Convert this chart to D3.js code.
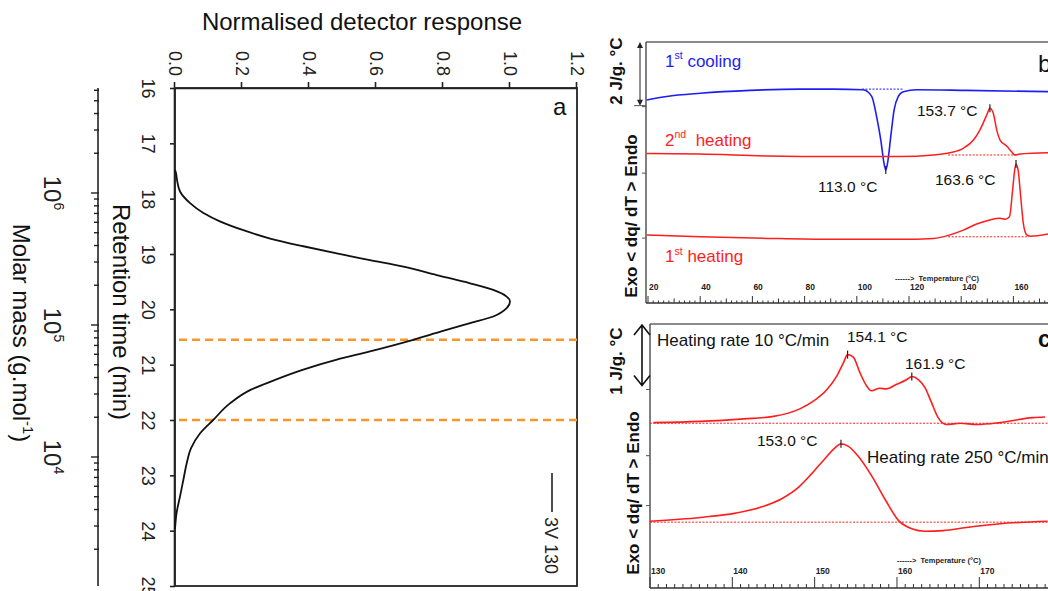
<!DOCTYPE html>
<html>
<head>
<meta charset="utf-8">
<script src="https://cdn.jsdelivr.net/npm/d3@7"></script>
<style>
  body { margin: 0; background: #fff; }
  svg { display: block; }
  text { font-family: "Liberation Sans", Arial, sans-serif; }
</style>
</head>
<body>
<svg id="chart" width="1048" height="591"></svg>
<script>
// ---- panel a : GPC trace (retention time in min, normalised response) ----
const gpcTime = [17.48, 17.54, 17.66, 17.87, 18.08, 18.26, 18.41, 18.57, 18.72, 18.86,
  18.99, 19.11, 19.23, 19.38, 19.53, 19.65, 19.77, 19.86, 19.98, 20.13,
  20.25, 20.40, 20.55, 20.76, 20.91, 21.09, 21.31, 21.46, 21.70, 22.00,
  22.24, 22.51, 22.78, 23.08, 23.38, 23.67, 23.97];
const gpcResponse = [0, 0.003, 0.006, 0.015, 0.045, 0.085, 0.134, 0.204, 0.284, 0.383,
  0.483, 0.582, 0.682, 0.781, 0.881, 0.950, 0.990, 1.000, 0.990, 0.950,
  0.881, 0.795, 0.711, 0.582, 0.483, 0.383, 0.284, 0.224, 0.164, 0.114,
  0.075, 0.048, 0.035, 0.025, 0.015, 0.005, 0];
const cutTimes = [20.55, 22.0];
const timeTicks = [16, 17, 18, 19, 20, 21, 22, 23, 24, 25];
const responseTicks = [0, 0.2, 0.4, 0.6, 0.8, 1.0, 1.2];
const molarExponents = [6, 5, 4];

// ---- panel b : DSC, heat flow in J/g.°C (arbitrary zero) ----
const coolT = [19.5, 27.2, 40, 59, 78, 91, 102.4, 105.7, 107.6, 109.2, 110.4, 111.1, 111.8, 113.0, 114.3, 115.9, 117.8, 123, 142, 173.3];
const coolQ = [6.38, 6.49, 6.59, 6.68, 6.72, 6.72, 6.70, 6.49, 5.85, 5.12, 4.40, 4.18, 4.40, 5.22, 6.07, 6.49, 6.64, 6.70, 6.68, 6.64];
const heat2T = [19.5, 40, 65.5, 91, 116.6, 129.3, 135.7, 140.8, 144.7, 147.2, 149.8, 151.0, 152.3, 153.6, 154.9, 157.4, 159.3, 160.6, 162.5, 173.3];
const heat2Q = [4.70, 4.68, 4.62, 4.60, 4.60, 4.65, 4.72, 4.86, 5.12, 5.44, 5.91, 6.12, 5.96, 5.44, 5.12, 4.93, 4.75, 4.65, 4.68, 4.72];
const heat1T = [19.5, 40, 65.5, 91, 116.6, 129.3, 135.7, 140.8, 145.9, 151.0, 154.9, 156.8, 158.5, 159.7, 160.5, 161.0, 161.8, 162.8, 163.8, 165.1, 166.4, 173.3];
const heat1Q = [2.14, 2.08, 2.03, 2.00, 2.00, 2.03, 2.14, 2.29, 2.48, 2.61, 2.66, 2.63, 2.71, 3.55, 4.18, 4.37, 4.18, 3.34, 2.50, 2.14, 2.10, 2.17];
// dotted baselines: [start T, end T, level]
const baselinesB = [[102, 118, 6.72, "blue"], [135, 161, 4.65, "red"], [135, 166, 2.08, "red"]];
const peaksB = [[111.1, 4.18], [151.0, 6.12], [161.0, 4.37]];
const tempLabelsB = [20, 40, 60, 80, 100, 120, 140, 160];
const leftTicksB = [2.04, 4.08, 6.17];

// ---- panel c : DSC at two heating rates ----
const rate10T = [130.4, 136.1, 141.4, 145, 148.2, 149.8, 151.5, 152.7, 153.5, 154.0, 154.7, 155.5, 156.3, 156.9, 157.9,
  158.7, 159.9, 161.2, 161.8, 162.6, 163.4, 164.2, 165.0, 166.0, 167.7, 169.7, 172.5, 176.5, 178.0];
const rate10Q = [2.65, 2.67, 2.71, 2.75, 2.87, 2.99, 3.18, 3.40, 3.61, 3.74, 3.70, 3.45, 3.24, 3.16, 3.20,
  3.19, 3.26, 3.34, 3.39, 3.34, 3.21, 2.97, 2.73, 2.62, 2.64, 2.62, 2.65, 2.73, 2.74];
const rate250T = [130, 136.1, 140.4, 143.6, 146, 148.1, 149.7, 151.3, 152.5, 153.2, 154.1, 155.3, 157.0, 158.6, 160.2, 161.8, 163.4, 165.6, 168.4, 172.5, 178.3];
const rate250Q = [1.07, 1.13, 1.20, 1.30, 1.43, 1.62, 1.84, 2.08, 2.25, 2.31, 2.27, 2.11, 1.78, 1.41, 1.08, 0.95, 0.91, 0.92, 0.97, 1.03, 1.07];
const baselinesC = [[130, 178.3, 2.64], [130, 178.3, 1.055]];
const peaksC = [[154.0, 3.74], [161.8, 3.39], [153.2, 2.31]];
const tempLabelsC = [130, 140, 150, 160, 170];
const leftTicksC = [1.32, 2.12, 3.18];

const RED = "#ff1d1d", BLUE = "#1e1ef2";
const svg = d3.select("#chart");

function richText(parent, x, y, parts, size) {
  const t = parent.append("text").attr("x", x).attr("y", y)
    .attr("font-size", size).style("white-space", "pre");
  let up = false;
  parts.forEach(([s, sup]) => {
    const ts = t.append("tspan").text(s);
    if (sup) ts.attr("font-size", size * 0.62);
    if (sup && !up) ts.attr("dy", -size * 0.42);
    if (!sup && up) ts.attr("dy", size * 0.42);
    up = sup;
  });
  return t;
}

// ================= panel a =================
// drawn as an ordinary plot, then turned 90° clockwise
const aW = 498, aH = 402;
const gA = svg.append("g").attr("transform", "translate(577,88) rotate(90)");
const xTime = d3.scaleLinear().domain([16, 25]).range([0, aW]);
const yResp = d3.scaleLinear().domain([0, 1.2]).range([aH, 0]);

const axT = gA.append("g").attr("transform", `translate(0,${aH})`)
  .call(d3.axisBottom(xTime).tickValues(timeTicks).tickSize(5).tickSizeOuter(0)
    .tickPadding(15).tickFormat(d3.format("d")));
const axR = gA.append("g")
  .call(d3.axisLeft(yResp).tickValues(responseTicks).tickSize(6).tickSizeOuter(0)
    .tickPadding(6).tickFormat(d3.format(".1f")));
[axT, axR].forEach(ax => {
  ax.attr("font-size", 18).attr("font-family", "'Liberation Sans', Arial, sans-serif").attr("color", "#222");
  ax.selectAll("line, path").attr("stroke-width", 1.6);
});

gA.append("rect").attr("width", aW).attr("height", aH)
  .attr("fill", "none").attr("stroke", "#222").attr("stroke-width", 1.8);

gA.selectAll(".cut").data(cutTimes).join("line").attr("class", "cut")
  .attr("x1", d => xTime(d)).attr("x2", d => xTime(d))
  .attr("y1", 0).attr("y2", aH)
  .attr("stroke", "#f7962b").attr("stroke-width", 2.5).attr("stroke-dasharray", "8,5");

gA.append("path").datum(d3.zip(gpcTime, gpcResponse))
  .attr("fill", "none").attr("stroke", "#111").attr("stroke-width", 1.8)
  .attr("d", d3.line().x(d => xTime(d[0])).y(d => yResp(d[1])).curve(d3.curveMonotoneX));

// legend
gA.append("line").attr("x1", 385).attr("x2", 424).attr("y1", 25).attr("y2", 25)
  .attr("stroke", "#222").attr("stroke-width", 1.6);
gA.append("text").attr("x", 429).attr("y", 32).attr("font-size", 18).attr("fill", "#222").text("3V 130");

// molar mass axis (log) under the time axis
const molarAxisV = 479;
const molar = d3.scaleLog().domain([1e6, 1e4]).range([105, 369]);
const molarVis = molar.copy().domain([molar.invert(0), molar.invert(aW)]).range([0, aW]);
gA.append("line").attr("x1", 0).attr("x2", aW).attr("y1", molarAxisV).attr("y2", molarAxisV)
  .attr("stroke", "#222").attr("stroke-width", 1.6);
gA.selectAll(".mtick").data(molarVis.ticks()).join("line").attr("class", "mtick")
  .attr("x1", d => molarVis(d)).attr("x2", d => molarVis(d))
  .attr("y1", molarAxisV - 1)
  .attr("y2", d => molarAxisV + (Math.abs(Math.log10(d) % 1) < 1e-9 ? 7 : 4))
  .attr("stroke", "#222").attr("stroke-width", 1.4);
molarExponents.forEach(e => {
  const t = gA.append("text").attr("x", molarVis(Math.pow(10, e))).attr("y", 533)
    .attr("text-anchor", "middle").attr("font-size", 24).attr("fill", "#222");
  t.append("tspan").text("10");
  t.append("tspan").attr("font-size", 14).attr("dy", -10).text(e);
});

gA.append("text").attr("x", 224).attr("y", 464).attr("text-anchor", "middle")
  .attr("font-size", 24).attr("fill", "#111").text("Retention time (min)");
richText(gA, 245, 564, [["Molar mass (g.mol", false], ["-1", true], [")", false]], 24)
  .attr("text-anchor", "middle").attr("fill", "#111");

svg.append("text").attr("x", 362).attr("y", 30).attr("text-anchor", "middle")
  .attr("font-size", 24).attr("fill", "#111").text("Normalised detector response");
svg.append("text").attr("x", 553).attr("y", 115).attr("font-size", 24).attr("fill", "#111").text("a");

// ================= panel b =================
const xB = d3.scaleLinear().domain([20, 160]).range([648, 1013.4]);
const yB = d3.scaleLinear().domain([0, 8.2]).range([303, 42]);
const lineB = d3.line().x(d => xB(d[0])).y(d => yB(d[1])).curve(d3.curveMonotoneX);
const gB = svg.append("g");

gB.append("line").attr("x1", 646).attr("x2", 1048).attr("y1", yB(8.2)).attr("y2", yB(8.2))
  .attr("stroke", "#8a8a8a").attr("stroke-width", 2);
gB.append("line").attr("x1", 646).attr("x2", 646).attr("y1", yB(8.2)).attr("y2", yB(0))
  .attr("stroke", "#555").attr("stroke-width", 1.5);
gB.append("line").attr("x1", 646).attr("x2", 1048).attr("y1", yB(0)).attr("y2", yB(0))
  .attr("stroke", "#333").attr("stroke-width", 1.5);
gB.selectAll(".lt").data(leftTicksB).join("line").attr("class", "lt")
  .attr("x1", 642).attr("x2", 646).attr("y1", d => yB(d)).attr("y2", d => yB(d))
  .attr("stroke", "#555");
gB.selectAll(".bt").data(d3.range(20, 174, 2)).join("line").attr("class", "bt")
  .attr("x1", d => xB(d)).attr("x2", d => xB(d)).attr("y1", yB(0))
  .attr("y2", d => yB(0) - (d % 20 === 0 ? 7 : d % 10 === 0 ? 4.5 : 2.5))
  .attr("stroke", "#333").attr("stroke-width", 1);
gB.selectAll(".bl").data(tempLabelsB).join("text").attr("class", "bl")
  .attr("x", d => xB(d) + 1).attr("y", 290)
  .attr("font-family", "'DejaVu Sans Mono', monospace").attr("font-weight", "bold")
  .attr("font-size", 8.5).attr("fill", "#222").text(d => d);
gB.append("text").attr("x", 895).attr("y", 281).attr("font-family", "'DejaVu Sans Mono', monospace")
  .attr("font-size", 7.5).attr("font-weight", "bold").attr("fill", "#222").style("white-space", "pre")
  .text("------>  Temperature (°C)");

gB.selectAll(".base").data(baselinesB).join("line").attr("class", "base")
  .attr("x1", d => xB(d[0])).attr("x2", d => xB(d[1]))
  .attr("y1", d => yB(d[2])).attr("y2", d => yB(d[2]))
  .attr("stroke", d => d[3] === "blue" ? BLUE : RED).attr("stroke-width", 1)
  .attr("stroke-dasharray", "2,1.5");
gB.append("path").datum(d3.zip(coolT, coolQ)).attr("fill", "none")
  .attr("stroke", BLUE).attr("stroke-width", 1.6).attr("d", lineB);
gB.append("path").datum(d3.zip(heat2T, heat2Q)).attr("fill", "none")
  .attr("stroke", RED).attr("stroke-width", 1.5).attr("d", lineB);
gB.append("path").datum(d3.zip(heat1T, heat1Q)).attr("fill", "none")
  .attr("stroke", RED).attr("stroke-width", 1.5).attr("d", lineB);
gB.selectAll(".pk").data(peaksB).join("line").attr("class", "pk")
  .attr("x1", d => xB(d[0])).attr("x2", d => xB(d[0]))
  .attr("y1", d => yB(d[1]) - 4).attr("y2", d => yB(d[1]) + 4)
  .attr("stroke", "#222").attr("stroke-width", 1.2);

// scale bar 2 J/g.°C
gB.append("line").attr("x1", 640).attr("x2", 640).attr("y1", yB(8.2) + 3).attr("y2", yB(6.2) - 3)
  .attr("stroke", "#222").attr("stroke-width", 1);
gB.append("path").attr("fill", "#222")
  .attr("d", `M640,${yB(8.2)} l-3,6 h6 z M640,${yB(6.2)} l-3,-6 h6 z`);
gB.append("line").attr("x1", 634).attr("x2", 646).attr("y1", yB(6.2)).attr("y2", yB(6.2))
  .attr("stroke", "#555");

gB.append("text").attr("transform", "translate(622,71) rotate(-90)").attr("text-anchor", "middle")
  .attr("font-size", 17).attr("font-weight", "bold").attr("fill", "#111").text("2 J/g. °C");
gB.append("text").attr("transform", "translate(637,216) rotate(-90)").attr("text-anchor", "middle")
  .attr("font-size", 17).attr("font-weight", "bold").attr("fill", "#111").text("Exo < dq/ dT > Endo");

richText(gB, 665, 66.5, [["1", false], ["st", true], [" cooling", false]], 17).attr("fill", BLUE);
richText(gB, 665, 145.5, [["2", false], ["nd", true], ["  heating", false]], 17).attr("fill", RED);
richText(gB, 665, 262, [["1", false], ["st", true], [" heating", false]], 17).attr("fill", RED);
gB.append("text").attr("x", 818).attr("y", 191.5).attr("font-size", 15.5).attr("fill", "#111").text("113.0 °C");
gB.append("text").attr("x", 917).attr("y", 116).attr("font-size", 15.5).attr("fill", "#111").text("153.7 °C");
gB.append("text").attr("x", 935).attr("y", 185).attr("font-size", 15.5).attr("fill", "#111").text("163.6 °C");
gB.append("text").attr("x", 1038).attr("y", 72).attr("font-size", 24).attr("fill", "#111").text("b");

// ================= panel c =================
const xC = d3.scaleLinear().domain([130, 170]).range([650, 979.3]);
const yC = d3.scaleLinear().domain([0, 4.23]).range([588, 324]);
const lineC = d3.line().x(d => xC(d[0])).y(d => yC(d[1])).curve(d3.curveMonotoneX);
const gC = svg.append("g");

gC.append("line").attr("x1", 650).attr("x2", 1048).attr("y1", yC(4.23)).attr("y2", yC(4.23))
  .attr("stroke", "#8a8a8a").attr("stroke-width", 2);
gC.append("line").attr("x1", 650).attr("x2", 650).attr("y1", yC(4.23)).attr("y2", yC(0))
  .attr("stroke", "#555").attr("stroke-width", 1.5);
gC.append("line").attr("x1", 650).attr("x2", 1048).attr("y1", yC(0)).attr("y2", yC(0))
  .attr("stroke", "#333").attr("stroke-width", 1.5);
gC.selectAll(".lt").data(leftTicksC).join("line").attr("class", "lt")
  .attr("x1", 646).attr("x2", 650).attr("y1", d => yC(d)).attr("y2", d => yC(d))
  .attr("stroke", "#555");
gC.selectAll(".bt").data(d3.range(130, 179, 1)).join("line").attr("class", "bt")
  .attr("x1", d => xC(d)).attr("x2", d => xC(d)).attr("y1", yC(0))
  .attr("y2", d => yC(0) - (d % 10 === 0 ? 11 : 4))
  .attr("stroke", "#333").attr("stroke-width", 1);
gC.selectAll(".bl").data(tempLabelsC).join("text").attr("class", "bl")
  .attr("x", d => xC(d) + 1).attr("y", 574)
  .attr("font-family", "'DejaVu Sans Mono', monospace").attr("font-weight", "bold")
  .attr("font-size", 8.5).attr("fill", "#222").text(d => d);
gC.append("text").attr("x", 897).attr("y", 563).attr("font-family", "'DejaVu Sans Mono', monospace")
  .attr("font-size", 7.5).attr("font-weight", "bold").attr("fill", "#222").style("white-space", "pre")
  .text("------>  Temperature (°C)");

gC.selectAll(".base").data(baselinesC).join("line").attr("class", "base")
  .attr("x1", d => xC(d[0])).attr("x2", d => xC(d[1]))
  .attr("y1", d => yC(d[2])).attr("y2", d => yC(d[2]))
  .attr("stroke", RED).attr("stroke-width", 1).attr("stroke-dasharray", "2,1.5");
gC.append("path").datum(d3.zip(rate10T, rate10Q)).attr("fill", "none")
  .attr("stroke", RED).attr("stroke-width", 1.6).attr("d", lineC);
gC.append("path").datum(d3.zip(rate250T, rate250Q)).attr("fill", "none")
  .attr("stroke", RED).attr("stroke-width", 1.6).attr("d", lineC);
gC.selectAll(".pk").data(peaksC).join("line").attr("class", "pk")
  .attr("x1", d => xC(d[0])).attr("x2", d => xC(d[0]))
  .attr("y1", d => yC(d[1]) - 4).attr("y2", d => yC(d[1]) + 4)
  .attr("stroke", "#222").attr("stroke-width", 1.2);

// scale bar 1 J/g.°C (open arrow heads)
gC.append("path").attr("fill", "none").attr("stroke", "#111").attr("stroke-width", 1.6)
  .attr("d", `M642,${yC(4.23) + 1} V${yC(3.23) - 1}`
    + ` M634,${yC(4.23) + 11} L642,${yC(4.23) + 1} L650,${yC(4.23) + 11}`
    + ` M634,${yC(3.23) - 11} L642,${yC(3.23) - 1} L650,${yC(3.23) - 11}`);

gC.append("text").attr("transform", "translate(622,361) rotate(-90)").attr("text-anchor", "middle")
  .attr("font-size", 17).attr("font-weight", "bold").attr("fill", "#111").text("1 J/g. °C");
gC.append("text").attr("transform", "translate(639,493) rotate(-90)").attr("text-anchor", "middle")
  .attr("font-size", 17).attr("font-weight", "bold").attr("fill", "#111").text("Exo < dq/ dT > Endo");

gC.append("text").attr("x", 657).attr("y", 346).attr("font-size", 17).attr("fill", "#111").text("Heating rate 10 °C/min");
gC.append("text").attr("x", 867).attr("y", 462.5).attr("font-size", 17).attr("fill", "#111").text("Heating rate 250 °C/min");
gC.append("text").attr("x", 847).attr("y", 342.3).attr("font-size", 15.5).attr("fill", "#111").text("154.1 °C");
gC.append("text").attr("x", 905).attr("y", 369).attr("font-size", 15.5).attr("fill", "#111").text("161.9 °C");
gC.append("text").attr("x", 757).attr("y", 446).attr("font-size", 15.5).attr("fill", "#111").text("153.0 °C");
gC.append("text").attr("x", 1038).attr("y", 347).attr("font-size", 23).attr("font-weight", "bold")
  .attr("fill", "#111").text("c");
</script>
</body>
</html>
